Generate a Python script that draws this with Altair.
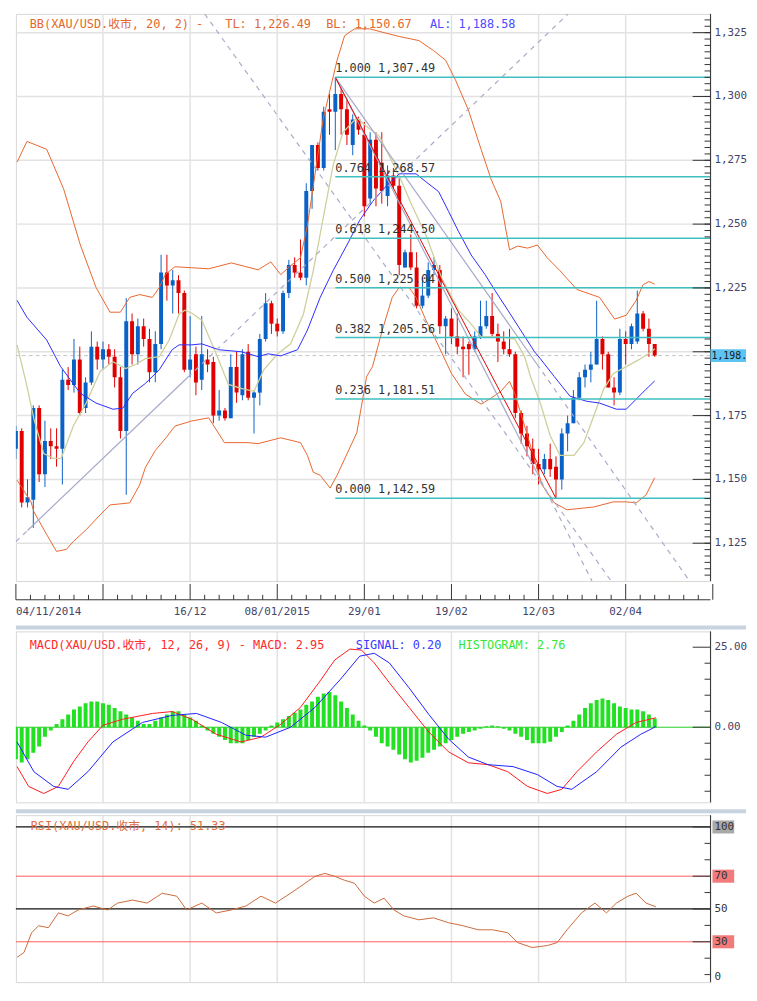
import altair as alt
import pandas as pd

FONT = "DejaVu Sans Mono, Noto Sans CJK SC"

# ---------------- data ----------------
bar_index = list(range(111))
open_ = [1162,1169,1141,1142,1178,1152,1165,1163,1162,1189,
         1187,1197,1178,1188,1202,1197,1201,1198,1190,1169,
         1212,1199,1210,1205,1192,1203,1231,1226,1228,1223,
         1193,1199,1189,1197,1196,1175,1177,1174,1194,1183,
         1200,1182,1184,1205,1219,1211,1208,1223,1234,1231,
         1229,1263,1281,1272,1295,1294,1301,1295,1281,1291,
         1285,1260,1283,1274,1261,1269,1265,1233,1239,1233,
         1218,1222,1232,1232,1210,1213,1206,1202,1203,1201,
         1206,1210,1214,1207,1204,1201,1199,1176,1168,1162,
         1156,1154,1158,1155,1150,1168,1172,1182,1190,1193,
         1195,1205,1199,1186,1184,1205,1203,1204,1215,1209,
         1203]
high = [1171,1170,1150,1179,1179,1173,1170,1170,1193,1194,
        1205,1202,1190,1208,1204,1204,1203,1201,1194,1221,
        1215,1213,1213,1209,1208,1238,1238,1232,1230,1224,
        1214,1202,1214,1201,1198,1185,1178,1199,1200,1201,
        1203,1185,1207,1223,1220,1213,1224,1236,1237,1244,
        1266,1281,1282,1296,1301,1307.49,1303,1299,1293,1292,
        1290,1286,1286,1286,1273,1272,1268,1240,1246,1239,
        1229,1235,1237,1234,1214,1217,1215,1206,1204,1208,
        1220,1220,1223,1211,1208,1209,1200,1177,1171,1166,
        1162,1160,1164,1159,1170,1175,1185,1192,1195,1200,
        1220,1206,1200,1190,1209,1208,1211,1224,1216,1213,
        1203]
low = [1158,1139,1139,1131,1149,1147,1158,1155,1148,1185,
       1184,1175,1176,1187,1193,1193,1195,1186,1166,1144,
       1195,1195,1202,1188,1188,1201,1220,1215,1215,1192,
       1190,1183,1185,1192,1172,1173,1173,1174,1180,1181,
       1181,1168,1179,1204,1207,1206,1207,1221,1229,1228,
       1226,1256,1271,1271,1285,1279,1285,1281,1277,1285,
       1253,1258,1257,1258,1257,1264,1230,1233,1232,1217,
       1217,1221,1230,1207,1199,1203,1199,1190,1191,1200,
       1205,1209,1206,1196,1199,1198,1174,1164,1159,1152,
       1148,1152,1151,1142.59,1146,1161,1172,1181,1186,1188,
       1195,1193,1186,1179,1183,1195,1201,1203,1208,1198,
       1198]
close = [1169,1141,1143,1178,1152,1165,1163,1162,1189,1187,
         1197,1176,1188,1202,1197,1201,1198,1190,1169,1212,
         1199,1210,1205,1192,1203,1231,1226,1228,1223,1193,
         1197,1188,1199,1195,1175,1177,1174,1194,1184,1199,
         1182,1184,1205,1219,1211,1208,1223,1234,1231,1229,
         1263,1281,1272,1294,1294,1301,1295,1285,1291,1287,
         1257,1283,1264,1263,1269,1265,1234,1239,1233,1218,
         1222,1232,1234,1210,1213,1206,1202,1201,1201,1206,
         1210,1214,1207,1204,1201,1199,1176,1168,1163,1156,
         1154,1158,1154,1150,1168,1172,1182,1190,1193,1195,
         1205,1199,1186,1184,1205,1203,1210,1215,1209,1203,
         1198.5]

bb_upper_i = [0.2,1.9,5.3,8.2,11.1,13.8,16.2,18.0,19.6,21.3,23.5,24.7,25.7,27.4,30.3,33.2,37.1,41.7,43.9,45.6,47.3,49.0,50.2,52.9,55.3,56.6,58.3,60.9,63.4,66.0,69.4,71.9,74.0,75.7,77.9,80.1,81.8,83.5,85.0,86.4,88.1,89.8,91.5,93.7,96.6,100.5,103.1,105.1,106.8,108.0,109.0,110.0]
bb_upper_v = [1274.3,1282.4,1279.3,1263.9,1241.8,1225.2,1215.5,1215.5,1221.3,1222.4,1221.3,1225.2,1230.2,1233.3,1232.9,1232.5,1234.8,1232.1,1235.2,1230.2,1233.7,1236.8,1249.5,1291.0,1314.2,1323.8,1326.5,1326.5,1325.0,1323.5,1321.9,1318.0,1314.2,1306.4,1294.8,1279.3,1267.7,1258.8,1239.9,1241.4,1240.6,1241.8,1236.8,1231.7,1224.4,1221.3,1212.8,1214.3,1220.1,1226.3,1227.5,1226.49]

bb_lower_i = [0.2,2.6,3.1,5.3,7.0,8.7,9.9,12.1,14.5,16.2,19.6,21.3,22.3,24.0,25.7,27.4,30.3,33.2,35.9,40.0,41.7,45.6,49.0,50.2,51.2,52.4,54.1,55.3,58.7,60.4,61.4,63.1,64.8,66.0,67.7,68.9,70.6,72.3,75.0,77.4,80.1,81.8,83.5,85.0,85.9,88.1,90.6,92.7,94.9,99.5,102.9,105.1,106.8,108.5,110.0]
bb_lower_v = [1149.7,1141.2,1137.3,1128.4,1121.8,1122.6,1125.7,1130.3,1136.1,1140.0,1140.8,1147.8,1154.7,1161.3,1165.9,1170.9,1172.9,1174.1,1164.4,1164.4,1164.0,1166.3,1164.4,1159.4,1152.8,1151.6,1146.6,1151.6,1168.3,1190.3,1194.2,1208.5,1221.3,1225.2,1225.2,1221.3,1212.4,1204.6,1191.5,1183.4,1179.5,1181.8,1184.5,1188.4,1183.7,1167.1,1147.8,1140.8,1138.1,1139.2,1141.2,1141.2,1140.8,1143.9,1150.67]

bb_mid_i = [0.2,1.9,5.3,7.7,11.1,13.8,16.7,18.4,20.1,22.3,24.7,26.9,28.1,30.3,32.0,34.9,38.8,41.7,43.4,45.6,48.5,50.2,52.4,54.6,57.0,59.2,61.4,63.8,66.0,68.9,70.6,72.8,74.5,76.2,78.4,80.8,82.5,84.7,86.9,89.3,90.3,92.7,95.4,98.3,100.5,103.4,105.1,106.8,108.5,110.0]
bb_mid_v = [1220.1,1213.5,1204.6,1194.2,1183.7,1179.9,1177.5,1177.9,1183.7,1187.6,1193.0,1200.8,1202.7,1202.7,1203.1,1200.8,1200.0,1198.1,1199.2,1198.4,1200.8,1208.5,1221.3,1231.7,1241.8,1251.5,1258.8,1265.0,1269.7,1269.7,1266.6,1262.7,1255.0,1247.2,1237.9,1230.2,1224.0,1216.3,1208.5,1200.0,1197.3,1190.3,1182.6,1180.6,1179.9,1177.5,1177.5,1181.4,1185.3,1188.58]

ma_i = [0.2,1.9,3.1,4.8,6.5,7.8,9.9,12.1,14.5,16.7,18.9,20.6,22.3,24.7,26.4,28.1,29.1,30.3,32.0,34.2,36.6,38.8,41.0,42.7,45.1,47.3,49.5,51.2,52.9,54.6,56.3,58.7,60.4,62.6,66.0,68.2,70.6,73.3,76.2,78.4,80.1,83.5,85.9,87.6,88.6,90.3,92.0,93.7,96.1,97.8,99.5,101.2,102.9,105.1,107.3,109.4,110.0]
ma_v = [1202.7,1186.5,1173.7,1160.1,1158.2,1158.2,1171.0,1179.9,1192.3,1196.1,1193.4,1195.0,1197.3,1198.1,1204.6,1214.7,1216.3,1215.1,1212.4,1200.8,1187.2,1185.7,1184.5,1193.0,1199.2,1203.1,1214.7,1231.7,1252.2,1272.8,1285.9,1291.7,1288.2,1284.4,1268.9,1257.3,1245.7,1229.0,1216.3,1210.8,1205.8,1205.8,1205.0,1198.1,1190.3,1179.9,1167.1,1159.4,1159.4,1164.4,1174.8,1185.3,1191.5,1194.2,1196.9,1200.0,1201.2]

fib_ratio = ["1.000", "0.764", "0.618", "0.500", "0.382", "0.236", "0.000"]
fib_price = [1307.49, 1268.57, 1244.50, 1225.04, 1205.56, 1181.51, 1142.59]
fib_price_text = ["1,307.49", "1,268.57", "1,244.50", "1,225.04", "1,205.56", "1,181.51", "1,142.59"]
fib_start = 55

# trend lines: segment id, bar position, price, style
trend_seg = ["red", "red",
             "rise_s", "rise_s", "g1_s", "g1_s", "g2_s", "g2_s",
             "rise_d0", "rise_d0", "rise_d1", "rise_d1", "g1_d", "g1_d", "g2_d", "g2_d", "fanA", "fanA"]
trend_i = [55, 93,
           2, 29.6, 55, 89.7, 55, 89.7,
           0, 2, 29.6, 95.08, 89.7, 99.2, 89.7, 116, 32.5, 102.5]
trend_v = [1307.49, 1142.59,
           1130, 1190, 1307.49, 1152.7, 1307.49, 1195.2,
           1125.65, 1130, 1190, 1332.35, 1152.7, 1110.2, 1195.2, 1110.2, 1332.35, 1110.2]
trend_kind = ["red", "red",
              "solid", "solid", "solid", "solid", "solid", "solid",
              "dash", "dash", "dash", "dash", "dash", "dash", "dash", "dash", "dash", "dash"]

last_price = 1198.5

macd_hist = [-10, -11, -10, -8, -6, -3, -1,
             1, 2.5, 4, 5.5, 6.5, 7.5, 8, 8,
             7.5, 7, 6, 5, 4, 3, 2, 1,
             1, 2, 3, 4, 5, 5, 4, 3,
             2, 0.5, -1,
             -2, -3, -4, -5, -5, -5, -4, -3, -2,
             -1, 0.5, 1.5, 2.5,
             3.5, 4.5, 5.5, 7, 8, 9.5, 10.5, 11, 10,
             8, 6, 4, 2, 0.5,
             -1, -3, -5, -6, -7, -8.5, -10, -11, -10.5, -9.5,
             -8, -7, -6, -5, -4, -3, -2, -1.5, -1, -0.5,
             0.3, 0.5, 0.3, -0.5, -1, -2,
             -3, -4, -5, -5, -5, -4.5, -3, -1.5,
             0.5, 2, 4, 6, 7.5, 8.5, 9,
             8.5, 7.5, 6.5, 6, 5.5, 5.5, 5, 4, 2.76]
macd_i = [0.2,2.2,4.8,7.3,9.9,12.4,15.0,18.4,23.5,26.9,30.3,34.5,38.8,42.2,45.6,49.0,52.4,54.9,57.5,59.5,61.7,64.3,67.7,71.1,74.5,77.9,81.3,84.7,88.1,91.5,94.0,96.6,100.0,103.4,106.8,110.2]
macd_v = [-12.3,-18.5,-20.7,-18.5,-10.8,-4.6,0.6,2.5,4.3,4.9,2.5,-2.2,-4.6,-3.1,0.9,6.2,14.5,21.0,24.4,24.1,20.1,13.9,6.2,-1.5,-7.7,-11.1,-11.7,-13.9,-18.5,-20.7,-19.4,-13.9,-7.7,-2.2,1.5,2.95]
signal_i = [0.2,3.1,6.5,9.0,12.4,16.7,21.8,26.9,31.1,35.4,39.6,43.0,47.3,51.5,55.8,59.2,61.7,64.3,67.7,71.1,74.5,77.9,81.3,85.6,89.8,93.2,95.7,100.0,104.2,107.6,110.2]
signal_v = [-4.6,-13.9,-18.5,-19.4,-13.9,-4.6,1.5,3.7,4.3,1.5,-2.5,-3.1,0.0,6.2,14.8,22.2,23.1,20.1,12.3,4.0,-3.7,-9.3,-11.7,-12.3,-14.8,-18.5,-19.4,-13.9,-6.2,-2.2,0.2]

rsi_i = [0.2,1.4,2.7,3.9,5.6,7.3,9.0,10.7,13.3,15.8,17.5,20.1,22.6,25.2,27.7,29.4,32.0,34.5,37.1,39.6,42.2,44.7,47.3,49.8,51.5,53.2,54.9,56.6,58.3,60.0,61.7,63.4,65.1,66.8,69.4,71.9,74.5,77.0,79.6,82.1,84.7,86.4,88.9,91.5,93.2,94.9,97.4,99.7,101.7,103.4,105.4,106.8,108.5,110.2]
rsi_v = [20.5,23.5,35.5,39.8,38.6,47.6,45.8,49.4,51.8,49.4,53.6,55.4,53.6,59.6,57.8,49.4,53.6,47.6,49.4,51.8,57.8,53.6,59.6,65.7,69.9,71.7,69.9,67.5,65.7,57.8,53.6,56.6,49.4,45.8,43.4,44.6,41.6,39.8,37.3,37.3,35.5,29.5,26.5,27.7,29.5,37.3,47.6,53.6,47.6,53.6,57.8,59.6,53.6,51.33]

price_ticks = [1125, 1150, 1175, 1200, 1225, 1250, 1275, 1300, 1325]
# the 1,200 label is hidden behind the last-price box in the reference
price_label_vals = [1125, 1150, 1175, 1225, 1250, 1275, 1300, 1325]
price_labels = ["1,125", "1,150", "1,175", "1,225", "1,250", "1,275", "1,300", "1,325"]
macd_ticks = [0, 25]
macd_labels = ["0.00", "25.00"]
rsi_ticks = [100, 70, 50, 30]
rsi_labels = ["100", "70", "50", "30"]
rsi_bottom_label = "0"

date_pos = [0, 30, 45, 60, 75, 90, 105]
date_lab = ["04/11/2014", "16/12", "08/01/2015", "29/01", "19/02", "12/03", "02/04"]

# ---------------- layout constants ----------------
W = 703
XMAX = 119.6
H1, HS, H2, H3 = 574, 36, 173, 169
xs = alt.Scale(domain=[0, XMAX], nice=False, zero=False, padding=0)
ys = alt.Scale(domain=[1110.2, 1332.35], nice=False, zero=False, padding=0)
ys2 = alt.Scale(domain=[-23.46, 29.94], nice=False, zero=False, padding=0)
ys3 = alt.Scale(domain=[5.4, 107.2], nice=False, zero=False, padding=0)

GRID = "#e2e2e2"
AXC = "#333333"
LABC = "#44446a"
SEP = "#c8d3e0"
x_major = [15 * k for k in range(1, 8)]
X = alt.X("i:Q", scale=xs, axis=None)


def Y(field, scale):
    return alt.Y(field, scale=scale, axis=None)


def label(text, x, y, color, size=12, align="left", baseline="middle"):
    return alt.Chart(pd.DataFrame({"t": [text]})).mark_text(
        align=align, baseline=baseline, font=FONT, fontSize=size, color=color).encode(
        text="t:N", x=alt.value(x), y=alt.value(y))


def line(i_vals, v_vals, color, scale, width=1.0):
    d = pd.DataFrame({"i": i_vals, "v": v_vals})
    return alt.Chart(d).mark_line(color=color, strokeWidth=width, clip=True).encode(
        x=X, y=Y("v:Q", scale))


def vgrid(height):
    return alt.Chart(pd.DataFrame({"i": x_major})).mark_rule(color=GRID, strokeWidth=1.5).encode(
        x=X, y=alt.value(0), y2=alt.value(height))


def yaxis(ticks, label_vals, labels, scale, minor, height, color=LABC):
    d = pd.DataFrame({"v": ticks})
    dl = pd.DataFrame({"v": label_vals, "t": labels})
    dom = alt.Chart(pd.DataFrame({"t": [0]})).mark_rule(color=AXC).encode(
        x=alt.value(W), y=alt.value(0), y2=alt.value(height))
    mj = alt.Chart(d).mark_rule(color=AXC).encode(y=Y("v:Q", scale), x=alt.value(W - 18), x2=alt.value(W))
    mn = alt.Chart(pd.DataFrame({"v": minor})).mark_rule(color=AXC).encode(
        y=Y("v:Q", scale), x=alt.value(W - 6), x2=alt.value(W))
    tx = alt.Chart(dl).mark_text(align="left", baseline="middle", font=FONT, fontSize=11, color=color).encode(
        y=Y("v:Q", scale), x=alt.value(W + 4), text="t:N")
    return [dom, mj, mn, tx]


# ---- main panel ----
candles = pd.DataFrame({"i": bar_index, "o": open_, "h": high, "l": low, "c": close})
candles["dir"] = ["up" if c >= o else "down" for o, c in zip(open_, close)]
dir_color = alt.Color("dir:N", scale=alt.Scale(domain=["up", "down"], range=["#0a62c6", "#e00000"]), legend=None)

hgrid = alt.Chart(pd.DataFrame({"v": price_ticks})).mark_rule(color=GRID, strokeWidth=1.5).encode(
    y=Y("v:Q", ys))
wicks = alt.Chart(candles).mark_rule(strokeWidth=1, clip=True).encode(
    x=X, y=Y("l:Q", ys), y2="h:Q", color=dir_color)
bodies = alt.Chart(candles).mark_bar(size=4, clip=True, orient="vertical").encode(
    x=X, y=Y("o:Q", ys), y2="c:Q", color=dir_color)

last_df = pd.DataFrame({"v": [last_price], "t": ["1,198."]})
last_rule = alt.Chart(last_df).mark_rule(color="#c4c4c4", strokeDash=[4, 3]).encode(y=Y("v:Q", ys))

up_line = line(bb_upper_i, bb_upper_v, "#e8662e", ys)
lo_line = line(bb_lower_i, bb_lower_v, "#e8662e", ys)
ma_line = line(ma_i, ma_v, "#cfcf9c", ys, 1.3)
mid_line = line(bb_mid_i, bb_mid_v, "#2b2bff", ys)

tr = pd.DataFrame({"seg": trend_seg, "i": trend_i, "v": trend_v, "kind": trend_kind})
tr_red = alt.Chart(tr[tr.kind == "red"]).mark_line(color="#e00000", strokeWidth=1, clip=True).encode(
    x=X, y=Y("v:Q", ys), detail="seg:N")
tr_solid = alt.Chart(tr[tr.kind == "solid"]).mark_line(color="#a6a9c8", strokeWidth=1.2, clip=True).encode(
    x=X, y=Y("v:Q", ys), detail="seg:N")
tr_dash = alt.Chart(tr[tr.kind == "dash"]).mark_line(color="#a6abc8", strokeWidth=1.2, strokeDash=[5, 5],
                                                     clip=True).encode(x=X, y=Y("v:Q", ys), detail="seg:N")

fib = pd.DataFrame({"lvl": fib_price,
                    "lab": [r + " " + p for r, p in zip(fib_ratio, fib_price_text)],
                    "x0": [fib_start] * len(fib_price), "x1": [XMAX] * len(fib_price)})
fib_rules = alt.Chart(fib).mark_rule(color="#3fbfbf", strokeWidth=1.5, clip=True).encode(
    x=alt.X("x0:Q", scale=xs, axis=None), x2="x1:Q", y=Y("lvl:Q", ys))
fib_text = alt.Chart(fib).mark_text(align="left", baseline="bottom", dy=-2, font=FONT, fontSize=12,
                                    color="#333333").encode(
    x=alt.X("x0:Q", scale=xs, axis=None), y=Y("lvl:Q", ys), text="lab:N")

BOX = "M-1,-0.36L1,-0.36L1,0.36L-1,0.36Z"
last_box = alt.Chart(last_df).mark_point(shape=BOX, filled=True, size=36 ** 2, opacity=1,
                                         color="#5cc3f2").encode(x=alt.value(W + 18), y=Y("v:Q", ys))
last_txt = alt.Chart(last_df).mark_text(align="left", baseline="middle", font=FONT, fontSize=10,
                                        color="#1a1a1a").encode(x=alt.value(W + 1), y=Y("v:Q", ys), text="t:N")

hdr = [label("BB(XAU/USD.收市, 20, 2) -", 14, 10, "#e2682e"),
       label("TL: 1,226.49", 212, 10, "#e2682e"),
       label("BL: 1,150.67", 314, 10, "#e2682e"),
       label("AL: 1,188.58", 419, 10, "#4a4aff")]

main = alt.layer(vgrid(H1), hgrid, last_rule, wicks, bodies, up_line, lo_line, ma_line, mid_line,
                 tr_dash, tr_solid, tr_red, fib_rules, fib_text,
                 *yaxis(price_ticks, price_label_vals, price_labels, ys,
                        [1112.5 + 2.5 * k for k in range(88)], H1),
                 last_box, last_txt, *hdr).properties(width=W, height=H1)

# ---- x axis strip ----
major_ticks = [15 * k for k in range(0, 9)]
minor_ticks = [2.5 * k for k in range(48) if (2.5 * k) % 15 != 0]
s_major = alt.Chart(pd.DataFrame({"i": major_ticks})).mark_rule(color=AXC).encode(
    x=X, y=alt.value(0), y2=alt.value(16))
s_minor = alt.Chart(pd.DataFrame({"i": minor_ticks})).mark_rule(color=AXC).encode(
    x=X, y=alt.value(11), y2=alt.value(16))
s_dom = alt.Chart(pd.DataFrame({"t": [0]})).mark_rule(color=AXC).encode(
    x=alt.value(0), x2=alt.value(W), y=alt.value(16))
dl = pd.DataFrame({"i": date_pos, "t": date_lab})
s_lab0 = alt.Chart(dl.iloc[:1]).mark_text(align="left", baseline="middle", font=FONT, fontSize=11,
                                          color=LABC).encode(x=X, y=alt.value(28), text="t:N")
s_lab = alt.Chart(dl.iloc[1:]).mark_text(align="center", baseline="middle", font=FONT, fontSize=11,
                                         color=LABC).encode(x=X, y=alt.value(28), text="t:N")
strip = alt.layer(s_major, s_minor, s_dom, s_lab0, s_lab).properties(
    width=W, height=HS, view=alt.ViewBackground(stroke="transparent"))

# ---- MACD panel ----
hist_df = pd.DataFrame({"i": bar_index, "h": macd_hist})
hist = alt.Chart(hist_df).mark_bar(size=4, color="#22e022", clip=True, orient="vertical").encode(
    x=X, y=Y("h:Q", ys2), y2=alt.datum(0))
zero = alt.Chart(pd.DataFrame({"v": [0]})).mark_rule(color="#22d022", strokeWidth=1).encode(y=Y("v:Q", ys2))
macd_line = line(macd_i, macd_v, "#ff1a1a", ys2)
sig_line = line(signal_i, signal_v, "#1f1fff", ys2)
sep1 = alt.Chart(pd.DataFrame({"t": [0]})).mark_rule(color=SEP, strokeWidth=4).encode(
    x=alt.value(0), x2=alt.value(W + 36), y=alt.value(-4))
mleg = [label("MACD(XAU/USD.收市, 12, 26, 9) - MACD: 2.95", 14, 14, "#ff2a2a"),
        label("SIGNAL: 0.20", 344, 14, "#3a3aff"),
        label("HISTOGRAM: 2.76", 448, 14, "#33e833")]
macd = alt.layer(sep1, vgrid(H2), hist, zero, macd_line, sig_line,
                 *yaxis(macd_ticks, macd_ticks, macd_labels, ys2, [-20, -15, -10, -5, 5, 10, 15, 20], H2),
                 *mleg).properties(width=W, height=H2)

# ---- RSI panel ----
lv = pd.DataFrame({"v": rsi_ticks, "kind": ["k", "r", "k", "r"]})
rsi_black = alt.Chart(lv[lv.kind == "k"]).mark_rule(color="#111111", strokeWidth=1.3).encode(y=Y("v:Q", ys3))
rsi_red = alt.Chart(lv[lv.kind == "r"]).mark_rule(color="#ff5a5a", strokeWidth=1).encode(y=Y("v:Q", ys3))
rsi_line = line(rsi_i, rsi_v, "#cc6a3a", ys3)
RBOX = "M-1,-0.6L1,-0.6L1,0.6L-1,0.6Z"
box_g = alt.Chart(lv[lv.v == 100]).mark_point(shape=RBOX, filled=True, opacity=1, size=22 ** 2,
                                              color="#a9a9a9").encode(x=alt.value(W + 13), y=Y("v:Q", ys3))
box_r = alt.Chart(lv[lv.kind == "r"]).mark_point(shape=RBOX, filled=True, opacity=1, size=22 ** 2,
                                                 color="#f27a7a").encode(x=alt.value(W + 13), y=Y("v:Q", ys3))
sep2 = alt.Chart(pd.DataFrame({"t": [0]})).mark_rule(color=SEP, strokeWidth=4).encode(
    x=alt.value(0), x2=alt.value(W + 36), y=alt.value(-4))
rleg = [label("RSI(XAU/USD.收市, 14): 51.33", 15, 11, "#e07040"),
        label(rsi_bottom_label, W + 4, H3, "#333333", 11, "left", "bottom")]
rsi = alt.layer(sep2, vgrid(H3), box_g, box_r, rsi_black, rsi_red, rsi_line,
                *yaxis(rsi_ticks, rsi_ticks, rsi_labels, ys3, [10, 20, 40, 60, 80, 90], H3, "#333333"),
                *rleg).properties(width=W, height=H3)

top = alt.vconcat(main, strip, spacing=0)
chart = alt.vconcat(top, macd, rsi, spacing=4).properties(
    padding={"left": 5, "top": -2, "right": 0, "bottom": 0}
).configure_view(stroke="#d6d6d6")

chart.save("out.html", embed_options={"renderer": "svg", "actions": False})
